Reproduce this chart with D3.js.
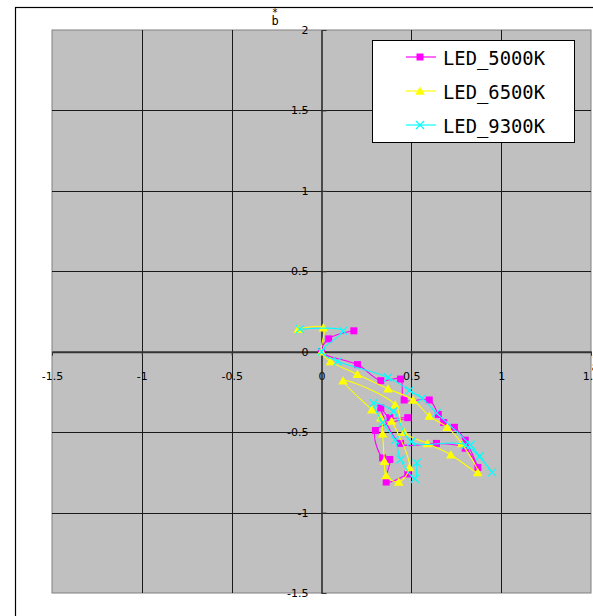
<!DOCTYPE html>
<html>
<head>
<meta charset="utf-8">
<script src="https://cdn.jsdelivr.net/npm/d3@7"></script>
<style>
  html, body { margin: 0; padding: 0; background: #fff; }
  svg { display: block; }
  .tick text { font-family: "DejaVu Sans", sans-serif; font-size: 11px; fill: #000; }
</style>
</head>
<body>
<svg id="chart" width="593" height="616"></svg>
<script>
// Series names and their (a*, b*) readings, in measurement order
const seriesNames = ["LED_5000K", "LED_6500K", "LED_9300K"];

const led5000A = [0.18, 0.04, 0.00, 0.20, 0.33, 0.44, 0.46, 0.60, 0.65, 0.68, 0.74, 0.80, 0.87, 0.80, 0.64, 0.44, 0.33, 0.38, 0.48, 0.30, 0.34, 0.38, 0.36, 0.48];
const led5000B = [0.13, 0.08, 0.00, -0.08, -0.18, -0.17, -0.30, -0.30, -0.39, -0.44, -0.47, -0.55, -0.72, -0.60, -0.57, -0.57, -0.35, -0.41, -0.41, -0.49, -0.66, -0.67, -0.81, -0.76];

const led6500A = [-0.13, 0.01, 0.00, 0.05, 0.20, 0.37, 0.51, 0.60, 0.70, 0.78, 0.87, 0.72, 0.59, 0.46, 0.41, 0.12, 0.28, 0.33, 0.34, 0.35, 0.36, 0.43, 0.49, 0.39];
const led6500B = [0.14, 0.15, 0.00, -0.06, -0.14, -0.23, -0.30, -0.40, -0.47, -0.57, -0.75, -0.64, -0.57, -0.50, -0.33, -0.18, -0.36, -0.41, -0.51, -0.68, -0.77, -0.81, -0.72, -0.43];

const led9300A = [-0.12, 0.12, 0.00, 0.09, 0.37, 0.49, 0.56, 0.64, 0.83, 0.88, 0.95, 0.80, 0.50, 0.40, 0.29, 0.34, 0.41, 0.44, 0.52, 0.53];
const led9300B = [0.14, 0.13, 0.00, -0.06, -0.16, -0.24, -0.29, -0.38, -0.58, -0.65, -0.75, -0.58, -0.56, -0.37, -0.32, -0.44, -0.55, -0.67, -0.79, -0.69];

const xTicks = [-1.5, -1, -0.5, 0, 0.5, 1, 1.5];
const yTicks = [-1.5, -1, -0.5, 0, 0.5, 1, 1.5, 2];

const seriesColors = ["#ff00ff", "#ffff00", "#00ffff"];
const seriesMarkers = ["square", "triangle", "cross"];

const series = [
  { name: seriesNames[0], a: led5000A, b: led5000B },
  { name: seriesNames[1], a: led6500A, b: led6500B },
  { name: seriesNames[2], a: led9300A, b: led9300B }
].map((s, i) => ({
  name: s.name,
  color: seriesColors[i],
  marker: seriesMarkers[i],
  points: s.a.map((v, j) => [v, s.b[j]])
}));

const svg = d3.select("#chart");

// Outer chart frame
svg.append("rect")
  .attr("x", 15.5).attr("y", 7.5)
  .attr("width", 620).attr("height", 640)
  .attr("fill", "#fff").attr("stroke", "#000").attr("stroke-width", 1.2);

const plot = { left: 52, top: 30, right: 591, bottom: 593 };
const x = d3.scaleLinear().domain([-1.5, 1.5]).range([plot.left, plot.right]);
const y = d3.scaleLinear().domain([-1.5, 2]).range([plot.bottom, plot.top]);

// Plot area
svg.append("rect")
  .attr("x", plot.left).attr("y", plot.top)
  .attr("width", plot.right - plot.left).attr("height", plot.bottom - plot.top)
  .attr("fill", "#c0c0c0").attr("stroke", "#808080").attr("stroke-width", 1);

// Gridlines
const grid = svg.append("g").attr("stroke", "#1a1a1a").attr("stroke-width", 1);
grid.selectAll("line.v").data(xTicks.filter(d => d !== 0 && d !== -1.5 && d !== 1.5)).join("line")
  .attr("x1", d => Math.round(x(d)) + 0.5).attr("x2", d => Math.round(x(d)) + 0.5)
  .attr("y1", plot.top).attr("y2", plot.bottom);
grid.selectAll("line.h").data(yTicks.filter(d => d !== 0 && d !== -1.5 && d !== 2)).join("line")
  .attr("y1", d => Math.round(y(d)) + 0.5).attr("y2", d => Math.round(y(d)) + 0.5)
  .attr("x1", plot.left).attr("x2", plot.right);

// Axes crossing at the origin (plain hyphen for negatives)
const fmt = d => String(d);
const xAxis = svg.append("g")
  .attr("transform", `translate(0,${y(0)})`)
  .call(d3.axisBottom(x).tickValues(xTicks).tickFormat(fmt).tickSize(4).tickPadding(16).tickSizeOuter(0));
xAxis.select(".domain").attr("stroke", "#333").attr("stroke-width", 2);
xAxis.selectAll(".tick line").attr("stroke", "#333");

const yAxis = svg.append("g")
  .attr("transform", `translate(${x(0)},0)`)
  .call(d3.axisLeft(y).tickValues(yTicks).tickFormat(fmt).tickSize(-5).tickPadding(13).tickSizeOuter(0));
yAxis.select(".domain").attr("stroke", "#222").attr("stroke-width", 1.5);
yAxis.selectAll(".tick line").attr("stroke", "#333");

// Axis titles: asterisk set above the letter, within one text element
const titleFont = "DejaVu Sans Mono, monospace";
function stackedTitle(cx, baseY, letter) {
  const t = svg.append("text").attr("x", cx).attr("y", baseY)
    .attr("text-anchor", "middle").attr("font-family", titleFont).attr("font-size", 12);
  t.append("tspan").attr("x", cx).attr("dy", -9).attr("font-size", 10).text("*");
  t.append("tspan").attr("x", cx).attr("dy", 9).text(letter);
}
stackedTitle(275, 25, "b");
stackedTitle(595, 371, "a");

// Marker shapes
function drawMarker(g, kind, color) {
  if (kind === "square") {
    g.append("rect").attr("x", -3.5).attr("y", -3.5).attr("width", 7).attr("height", 7)
      .attr("fill", color);
  } else if (kind === "triangle") {
    g.append("path").attr("d", "M0,-4.5L4.8,3.8L-4.8,3.8Z").attr("fill", color);
  } else {
    g.append("path").attr("d", "M-4,-4L4,4M-4,4L4,-4")
      .attr("stroke", color).attr("stroke-width", 1.2).attr("fill", "none");
  }
}

// Smoothed series lines with markers
const line = d3.line()
  .x(d => x(d[0])).y(d => y(d[1]))
  .curve(d3.curveCatmullRom.alpha(0.5));

const seriesG = svg.append("g");
series.forEach(s => {
  const g = seriesG.append("g");
  g.append("path").attr("d", line(s.points))
    .attr("fill", "none").attr("stroke", s.color).attr("stroke-width", 1.1);
  g.selectAll("g.m").data(s.points).join("g")
    .attr("transform", d => `translate(${x(d[0])},${y(d[1])})`)
    .each(function () { drawMarker(d3.select(this), s.marker, s.color); });
});

// Legend
const legend = svg.append("g");
legend.append("rect")
  .attr("x", 372.5).attr("y", 40.5).attr("width", 202).attr("height", 102)
  .attr("fill", "#fff").attr("stroke", "#000").attr("stroke-width", 1);
series.forEach((s, i) => {
  const ly = 57 + i * 34;
  const row = legend.append("g").attr("transform", `translate(0,${ly})`);
  row.append("line").attr("x1", 406).attr("x2", 436).attr("y1", 0).attr("y2", 0)
    .attr("stroke", s.color).attr("stroke-width", 1.2);
  const m = row.append("g").attr("transform", "translate(420,0)");
  drawMarker(m, s.marker, s.color);
  row.append("text").attr("x", 443).attr("y", 7.5)
    .attr("font-family", titleFont).attr("font-size", 19)
    .attr("textLength", 102).attr("lengthAdjust", "spacingAndGlyphs")
    .text(s.name);
});
</script>
</body>
</html>
